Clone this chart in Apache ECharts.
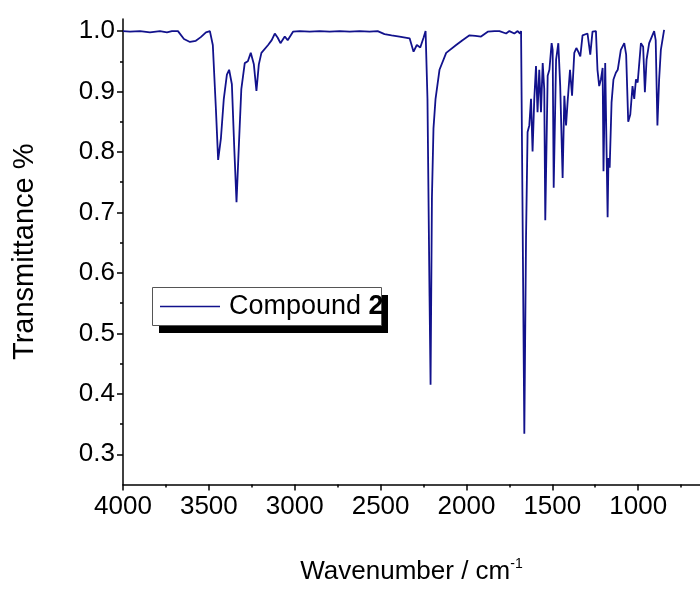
<!DOCTYPE html>
<html>
<head>
<meta charset="utf-8">
<script src="https://cdn.jsdelivr.net/npm/echarts@6/dist/echarts.min.js"></script>
<style>
html,body{margin:0;padding:0;background:#fff;}
#chart{width:700px;height:590px;}
</style>
</head>
<body>
<div id="chart"></div>
<script>
// Wavenumber (cm-1) and transmittance
const wavenumber = [
  4000,3959,3901,3843,3785,3744,3715,3680,3645,3610,3576,3547,3517,3494,3477,3459,3446,3430,3413,3395,
  3382,3366,3352,3339,3326,3311,3291,3273,3256,3238,3223,3209,3194,3155,3134,3116,3099,3083,3058,3041,
  3010,2971,2913,2855,2797,2738,2680,2622,2564,2517,2477,2436,2390,2331,2308,2289,2269,2250,2238,2227,
  2215,2209,2201,2192,2180,2157,2118,2060,2023,1982,1948,1915,1876,1837,1808,1769,1750,1721,1702,1688,
  1682,1674,1663,1653,1644,1634,1624,1615,1605,1595,1586,1576,1566,1556,1547,1541,1527,1517,1504,1498,
  1492,1478,1465,1454,1440,1430,1420,1411,1397,1385,1372,1360,1349,1337,1324,1295,1279,1266,1246,1237,
  1227,1217,1207,1202,1192,1178,1173,1166,1155,1144,1130,1119,1101,1081,1070,1058,1046,1033,1023,1013,
  1003,984,971,961,951,936,907,898,888,878,868,861,849
];
const transmittance = [
  1.000,0.999,1.000,0.998,1.000,0.998,1.000,1.000,0.987,0.982,0.984,0.990,0.998,1.000,0.977,0.871,0.787,0.822,0.888,0.928,
  0.936,0.912,0.806,0.717,0.806,0.904,0.947,0.950,0.964,0.945,0.901,0.945,0.964,0.977,0.985,0.996,0.989,0.980,0.991,0.985,
  0.999,1.000,0.999,1.000,0.999,1.000,0.999,1.000,0.999,1.000,0.995,0.993,0.991,0.988,0.966,0.977,0.973,0.989,1.000,0.888,
  0.562,0.415,0.725,0.839,0.888,0.936,0.964,0.977,0.985,0.993,0.992,0.991,0.999,1.000,1.000,0.996,1.000,0.996,1.000,0.996,
  1.000,0.725,0.334,0.660,0.833,0.844,0.888,0.801,0.888,0.942,0.866,0.936,0.866,0.947,0.904,0.687,0.926,0.936,0.980,0.969,
  0.741,0.953,0.980,0.909,0.757,0.893,0.844,0.883,0.936,0.893,0.964,0.972,0.966,0.958,0.993,0.996,0.961,0.999,1.000,0.936,
  0.909,0.920,0.939,0.768,0.947,0.692,0.790,0.774,0.882,0.920,0.931,0.936,0.969,0.980,0.961,0.850,0.862,0.909,0.888,0.920,
  0.915,0.980,0.974,0.899,0.953,0.980,1.000,0.985,0.844,0.920,0.969,0.972,1.002
];
const xMajorTicks = [4000,3500,3000,2500,2000,1500,1000];
const xMinorTicks = [3750,3250,2750,2250,1750,1250,750];
const yMajorTicks = [0.3,0.4,0.5,0.6,0.7,0.8,0.9,1.0];
const yMinorTicks = [0.35,0.45,0.55,0.65,0.75,0.85,0.95];
const seriesName = 'Compound 2';

const font = 'Liberation Sans, Arial, sans-serif';
const lineColor = '#12128c';
const chart = echarts.init(document.getElementById('chart'), null, {renderer: 'canvas'});
const data = wavenumber.map((w, i) => [w, transmittance[i]]);

const option = {
  backgroundColor: '#fff',
  animation: false,
  grid: {left: 123, right: 0, top: 19, bottom: 99, containLabel: false},
  graphic: [
    {type: 'rect', z: 10, shape: {x: 159, y: 295, width: 229, height: 38}, style: {fill: '#000'}},
    {type: 'rect', z: 11, shape: {x: 152.5, y: 287.5, width: 229, height: 38}, style: {fill: '#fff', stroke: '#555', lineWidth: 1}}
  ],
  legend: {
    left: 152, top: 287, z: 20,
    orient: 'horizontal',
    padding: [6, 0, 6, 8],
    itemWidth: 60, itemHeight: 14, itemGap: 5,
    backgroundColor: 'transparent',
    formatter: () => '{n|Compound }{b|2}',
    textStyle: {
      fontFamily: font, fontSize: 27, color: '#000',
      rich: {
        n: {fontFamily: font, fontSize: 27, color: '#000', padding: [0, 0, 0, 4]},
        b: {fontFamily: font, fontSize: 27, color: '#000', fontWeight: 'bold'}
      }
    },
    data: [{name: seriesName, icon: 'path://M0,0 L60,0 L60,1.5 L0,1.5 Z', itemStyle: {color: lineColor}}]
  },
  xAxis: [{
    type: 'value', inverse: true, min: 640, max: 4000,
    position: 'bottom',
    name: 'Wavenumber / cm{sup|-1}', nameLocation: 'middle', nameGap: 73,
    nameTextStyle: {
      fontFamily: font, fontSize: 26, color: '#000',
      rich: {
        sup: {fontFamily: font, fontSize: 14, color: '#000', padding: [0, 0, 15, 0], verticalAlign: 'bottom'}
      }
    },
    axisLine: {show: true, lineStyle: {color: '#000', width: 1.5}},
    axisTick: {show: true, inside: false, length: 6, customValues: xMajorTicks, lineStyle: {color: '#000', width: 1.5}},
    axisLabel: {customValues: xMajorTicks, fontFamily: font, fontSize: 26, color: '#000', margin: 9,
      formatter: v => String(v)},
    splitLine: {show: false}
  }, {
    type: 'value', inverse: true, min: 640, max: 4000,
    position: 'bottom', offset: 0, gridIndex: 0,
    axisLine: {show: false},
    axisTick: {show: true, inside: false, length: 3, customValues: xMinorTicks, lineStyle: {color: '#000', width: 1.5}},
    axisLabel: {show: false},
    splitLine: {show: false}
  }],
  yAxis: [{
    type: 'value', min: 0.25, max: 1.02,
    position: 'left',
    name: 'Transmittance %', nameLocation: 'middle', nameGap: 84, nameRotate: 90,
    nameTextStyle: {fontFamily: font, fontSize: 29, color: '#000'},
    axisLine: {show: true, lineStyle: {color: '#000', width: 1.5}},
    axisTick: {show: true, inside: false, length: 6, customValues: yMajorTicks, lineStyle: {color: '#000', width: 1.5}},
    axisLabel: {customValues: yMajorTicks, fontFamily: font, fontSize: 26, color: '#000', margin: 8,
      formatter: v => v.toFixed(1)},
    splitLine: {show: false}
  }, {
    type: 'value', min: 0.25, max: 1.02,
    position: 'left', offset: 0,
    axisLine: {show: false},
    axisTick: {show: true, inside: false, length: 3, customValues: yMinorTicks, lineStyle: {color: '#000', width: 1.5}},
    axisLabel: {show: false},
    splitLine: {show: false}
  }],
  series: [{
    name: seriesName,
    type: 'line',
    xAxisIndex: 0, yAxisIndex: 0,
    data: data,
    symbol: 'none',
    lineStyle: {color: lineColor, width: 1.8},
    itemStyle: {color: lineColor}
  }]
};
chart.setOption(option);
</script>
</body>
</html>
